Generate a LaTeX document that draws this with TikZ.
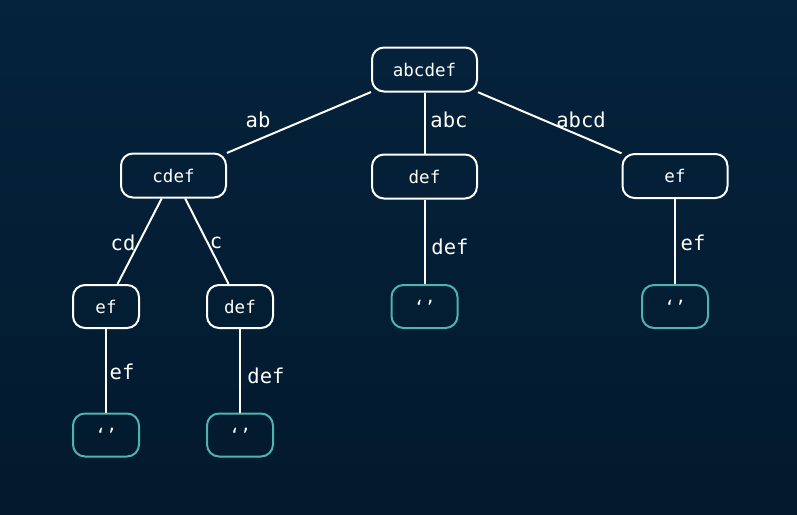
\documentclass[tikz,border=0pt]{standalone}
\usepackage{fontspec}
\setmonofont{DejaVu Sans Mono}
\definecolor{bgtop}{HTML}{04233C}
\definecolor{bgbot}{HTML}{03192D}
\definecolor{leafc}{HTML}{4FB3AE}
\begin{document}
\begin{tikzpicture}[x=1pt,y=-1pt,
  box/.style={draw=white, line width=2pt, rounded corners=12pt, text=white,
              font=\ttfamily\fontsize{17.5}{19}\selectfont, inner sep=0pt, anchor=center},
  inner/.style={box, minimum width=105pt, minimum height=44pt},
  small/.style={box, minimum width=66pt, minimum height=43pt},
  leaf/.style={small, draw=leafc},
  link/.style={draw=white, line width=2pt},
  lbl/.style={text=white, font=\ttfamily\fontsize{20.5}{22}\selectfont, inner sep=0pt}]
  % backdrop
  \shade[top color=bgtop, bottom color=bgbot] (0,0) rectangle (797,514);
  \useasboundingbox (0,0) rectangle (797,514);

  % nodes
  \node[inner] (root) at (424.5,69.5) {abcdef};
  \node[inner] (cdef) at (173.5,175.5) {cdef};
  \node[inner] (def)  at (424.5,176.5) {def};
  \node[inner] (ef)   at (675,176) {ef};
  \node[small] (ef2)  at (106,306.5) {ef};
  \node[small] (def2) at (240,306.5) {def};
  \node[leaf]  (l1)   at (424.5,306.5) {‘’};
  \node[leaf]  (l2)   at (675,306.5) {‘’};
  \node[leaf]  (l3)   at (106,435) {‘’};
  \node[leaf]  (l4)   at (240,435) {‘’};

  % connectors
  \draw[link] (root) -- (cdef);
  \draw[link] (root) -- (def);
  \draw[link] (root) -- (ef);
  \draw[link] (cdef) -- (ef2);
  \draw[link] (cdef) -- (def2);
  \draw[link] (def) -- (l1);
  \draw[link] (ef) -- (l2);
  \draw[link] (ef2) -- (l3);
  \draw[link] (def2) -- (l4);

  % edge labels
  \node[lbl] (tab)   at (258,120) {ab};
  \node[lbl] (tabc)  at (449,120) {abc};
  \node[lbl] (tabcd) at (581,120) {abcd};
  \node[lbl] (tcd)   at (123,243) {cd};
  \node[lbl] (tc)    at (216,243) {c};
  \node[lbl] (tdef)  at (450,247) {def};
  \node[lbl] (tef)   at (693,243) {ef};
  \node[lbl] (tef2)  at (122,372) {ef};
  \node[lbl] (tdef2) at (266,376) {def};
\end{tikzpicture}
\end{document}
